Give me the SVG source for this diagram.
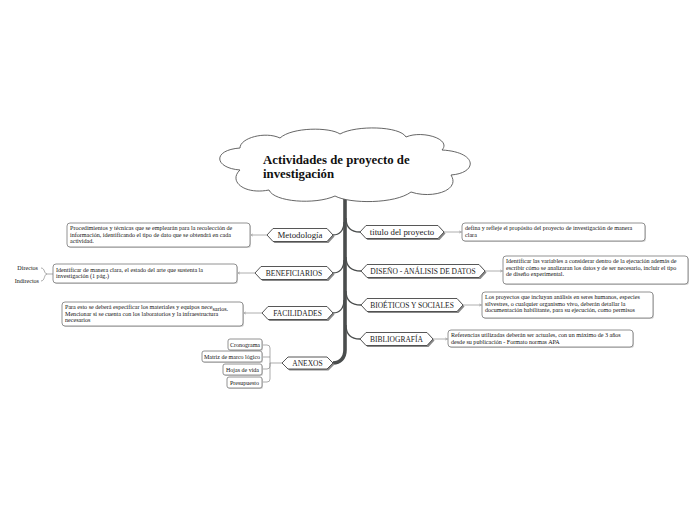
<svg xmlns="http://www.w3.org/2000/svg" width="696" height="520" viewBox="0 0 696 520">
<defs>
<marker id="arr" viewBox="0 0 6 6" refX="5.5" refY="3" markerWidth="4" markerHeight="4" orient="auto"><path d="M0,0.5 L5.5,3 L0,5.5" fill="none" stroke="#999" stroke-width="1"/></marker>
</defs>
<style>
.hex{fill:#fff;stroke:#444;stroke-width:0.9}
.hsh{fill:#8a8a8a}
.box{fill:#fff;stroke:#777;stroke-width:0.8}
.bsh{fill:#d4d4d4}
.lbl{font-family:"Liberation Serif",serif;font-size:8.8px;fill:#222;text-anchor:middle}
.cap{font-family:"Liberation Serif",serif;font-size:7.5px;fill:#222;text-anchor:middle}
.txt{font-family:"Liberation Serif",serif;font-size:6.1px;fill:#111}
.sm{font-family:"Liberation Serif",serif;font-size:6px;fill:#111;text-anchor:middle}
.br{fill:none;stroke:#4a4d4d;stroke-width:1.3}
.ln{fill:none;stroke:#999;stroke-width:0.8}
.sub{fill:none;stroke:#888;stroke-width:0.7}
</style>
<rect width="696" height="520" fill="#fff"/>

<g id="connectors">
<path d="M345,196 V350 C345,358 340,363 333,363" fill="none" stroke="#4a4d4d" stroke-width="3.6"/>
<path class="br" d="M346,218 C346,228 352,232 360,232"/>
<path class="br" d="M346,257 C346,267 352,271 361,271"/>
<path class="br" d="M346,291 C346,301 352,305 361,305"/>
<path class="br" d="M346,325 C346,335 352,339 360,339"/>
<path class="br" d="M344,222 C344,231 339,235 333,235"/>
<path class="br" d="M344,260 C344,269 339,273 333,273"/>
<path class="br" d="M344,300 C344,309 339,313 333,313"/>
<path class="ln" d="M444,232 H461.5" marker-end="url(#arr)"/>
<path class="ln" d="M485,271 H502.5" marker-end="url(#arr)"/>
<path class="ln" d="M463,305 H481.5" marker-end="url(#arr)"/>
<path class="ln" d="M433,339 H447.5" marker-end="url(#arr)"/>
<path class="ln" d="M267,235 H250.5" marker-end="url(#arr)"/>
<path class="ln" d="M255,273 H237.5" marker-end="url(#arr)"/>
<path class="ln" d="M262,313 H243.5" marker-end="url(#arr)"/>
<path class="sub" d="M53,274 H47 M47,274 C44,274 45,268 41,268 M47,274 C44,274 45,281 41,281"/>
<path class="sub" d="M282,363 H270 M270,363 V348 Q270,345 267,345 H262 M270,357 H262 M270,363 V366 Q270,369 267,369 H262 M270,363 V379 Q270,382 267,382 H262"/>
</g>

<g id="root">
<path d="M240,170 C214,168 212,150 240,148 C240,138 265,131 280,138 C292,127 330,127 340,134 C356,125 400,126 406,137 C422,130 452,139 442,150 C478,152 478,173 451,175 C461,191 431,199 411,192 C395,204 350,204 335,196 C315,205 274,202 269,190 C244,195 228,181 240,170 Z" fill="#fff" stroke="#555" stroke-width="0.9"/>
<text x="263" y="164" font-family="Liberation Serif,serif" font-size="12.8" font-weight="bold" fill="#111">Actividades de proyecto de</text>
<text x="263" y="178" font-family="Liberation Serif,serif" font-size="12.8" font-weight="bold" fill="#111">investigación</text>
</g>

<g id="titulo">
<polygon class="hsh" points="361.5,233.5 367.5,227 439.5,227 445.5,233.5 439.5,240 367.5,240"/>
<polygon class="hex" points="360,232 366,225.5 438,225.5 444,232 438,238.5 366,238.5"/>
<text class="lbl" x="402" y="235">titulo del proyecto</text>
</g>
<g id="titulo-desc">
<rect class="bsh" x="463" y="224" width="183" height="18" rx="3"/>
<rect class="box" x="462" y="223" width="183" height="18" rx="3"/>
<text class="txt" x="465" y="230">defina y refleje el propósito del proyecto de investigación de manera</text>
<text class="txt" x="465" y="236.5">clara</text>
</g>

<g id="diseno">
<polygon class="hsh" points="362.5,272.5 368.5,266 480.5,266 486.5,272.5 480.5,279 368.5,279"/>
<polygon class="hex" points="361,271 367,264.5 479,264.5 485,271 479,277.5 367,277.5"/>
<text class="cap" x="423" y="273.8">DISEÑO - ANÁLISIS DE DATOS</text>
</g>
<g id="diseno-desc">
<rect class="bsh" x="504" y="257" width="185" height="28" rx="3"/>
<rect class="box" x="503" y="256" width="185" height="28" rx="3"/>
<text class="txt" x="506" y="263">Identificar las variables a considerar dentro de la ejecución además de</text>
<text class="txt" x="506" y="269.5">escribir cómo se analizaran los datos y de ser necesario, incluir el tipo</text>
<text class="txt" x="506" y="276">de diseño experimental.</text>
</g>

<g id="bioeticos">
<polygon class="hsh" points="362.5,306.5 368.5,300 458.5,300 464.5,306.5 458.5,313 368.5,313"/>
<polygon class="hex" points="361,305 367,298.5 457,298.5 463,305 457,311.5 367,311.5"/>
<text class="cap" x="412" y="307.8">BIOÉTICOS Y SOCIALES</text>
</g>
<g id="bioeticos-desc">
<rect class="bsh" x="483" y="293" width="171" height="26" rx="3"/>
<rect class="box" x="482" y="292" width="171" height="26" rx="3"/>
<text class="txt" x="485" y="299">Los proyectos que incluyan análisis en seres humanos, especies</text>
<text class="txt" x="485" y="305.5">silvestres, o cualquier organismo vivo, deberán detallar la</text>
<text class="txt" x="485" y="312">documentación habilitante, para su ejecución, como permisos</text>
</g>

<g id="bibliografia">
<polygon class="hsh" points="361.5,340.5 367.5,334 428.5,334 434.5,340.5 428.5,347 367.5,347"/>
<polygon class="hex" points="360,339 366,332.5 427,332.5 433,339 427,345.5 366,345.5"/>
<text class="cap" x="396.5" y="341.8">BIBLIOGRAFÍA</text>
</g>
<g id="bibliografia-desc">
<rect class="bsh" x="449" y="331" width="185" height="17" rx="3"/>
<rect class="box" x="448" y="330" width="185" height="17" rx="3"/>
<text class="txt" x="451" y="337">Referencias utilizadas deberán ser actuales, con un máximo de 3 años</text>
<text class="txt" x="451" y="343.5">desde su publicación - Formato normas APA</text>
</g>

<g id="metodologia">
<polygon class="hsh" points="268.5,236.5 274.5,230 328.5,230 334.5,236.5 328.5,243 274.5,243"/>
<polygon class="hex" points="267,235 273,228.5 327,228.5 333,235 327,241.5 273,241.5"/>
<text class="lbl" x="300" y="238">Metodología</text>
</g>
<g id="metodologia-desc">
<rect class="bsh" x="68" y="224" width="183" height="24" rx="3"/>
<rect class="box" x="67" y="223" width="183" height="24" rx="3"/>
<text class="txt" x="70" y="230">Procedimientos y técnicas que se emplearán para la recolección de</text>
<text class="txt" x="70" y="236.5">información, identificando el tipo de dato que se obtendrá en cada</text>
<text class="txt" x="70" y="243">actividad.</text>
</g>

<g id="beneficiarios">
<polygon class="hsh" points="256.5,274.5 262.5,268 328.5,268 334.5,274.5 328.5,281 262.5,281"/>
<polygon class="hex" points="255,273 261,266.5 327,266.5 333,273 327,279.5 261,279.5"/>
<text class="cap" x="294" y="275.8">BENEFICIARIOS</text>
</g>
<g id="beneficiarios-desc">
<rect class="bsh" x="54" y="265" width="184" height="19" rx="3"/>
<rect class="box" x="53" y="264" width="184" height="19" rx="3"/>
<text class="txt" x="56" y="271.5">Identificar de manera clara, el estado del arte que sustenta la</text>
<text class="txt" x="56" y="278">investigación (1 pág.)</text>
</g>
<g id="directos">
<text class="txt" x="38" y="270" text-anchor="end">Directos</text>
</g>
<g id="indirectos">
<text class="txt" x="39" y="283" text-anchor="end">Indirectos</text>
</g>

<g id="facilidades">
<polygon class="hsh" points="263.5,314.5 269.5,308 328.5,308 334.5,314.5 328.5,321 269.5,321"/>
<polygon class="hex" points="262,313 268,306.5 327,306.5 333,313 327,319.5 268,319.5"/>
<text class="cap" x="297.5" y="315.8">FACILIDADES</text>
</g>
<g id="facilidades-desc">
<rect class="bsh" x="63" y="303" width="181" height="24" rx="3"/>
<rect class="box" x="62" y="302" width="181" height="24" rx="3"/>
<text class="txt" x="65" y="309">Para esto se deberá especificar los materiales y equipos nece<tspan dy="1.5">sarios.</tspan></text>
<text class="txt" x="65" y="315.5">Mencionar si se cuenta con los laboratorios y la infraestructura</text>
<text class="txt" x="65" y="322">necesarios</text>
</g>

<g id="anexos">
<polygon class="hsh" points="283.5,364.5 289.5,358.5 328.5,358.5 334.5,364.5 328.5,370.5 289.5,370.5"/>
<polygon class="hex" points="282,363 288,357 327,357 333,363 327,369 288,369"/>
<text class="cap" x="307.5" y="365.8">ANEXOS</text>
</g>
<g id="cronograma">
<rect class="bsh" x="229" y="340" width="34" height="11" rx="2"/>
<rect class="box" x="228" y="339" width="34" height="11" rx="2"/>
<text class="sm" x="245" y="346.6">Cronograma</text>
</g>
<g id="matriz">
<rect class="bsh" x="203" y="352" width="60" height="11" rx="2"/>
<rect class="box" x="202" y="351" width="60" height="11" rx="2"/>
<text class="sm" x="232" y="358.6">Matriz de marco lógico</text>
</g>
<g id="hojas">
<rect class="bsh" x="224" y="365" width="39" height="11" rx="2"/>
<rect class="box" x="223" y="364" width="39" height="11" rx="2"/>
<text class="sm" x="242.5" y="371.6">Hojas de vida</text>
</g>
<g id="presupuesto">
<rect class="bsh" x="228" y="378" width="35" height="11" rx="2"/>
<rect class="box" x="227" y="377" width="35" height="11" rx="2"/>
<text class="sm" x="244.5" y="384.6">Presupuesto</text>
</g>
</svg>
